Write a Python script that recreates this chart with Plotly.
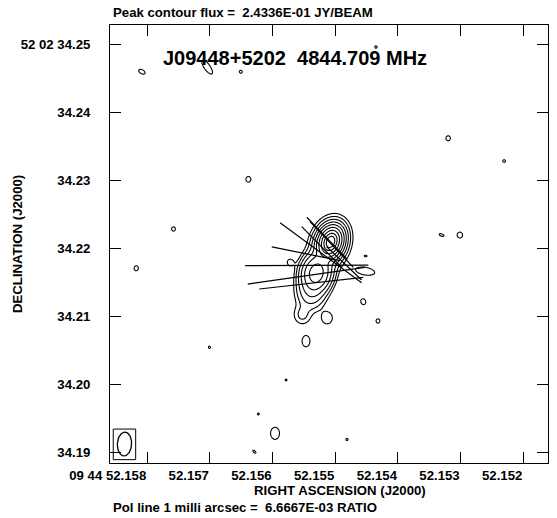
import numpy as np
import plotly.graph_objects as go

# ---- map geometry -------------------------------------------------------
RA0_S = 52.155          # reference RA seconds (09 44 52.155)
DEC0_AS = 34.22         # reference Dec arcsec (52 02 34.22)
DEC_DEG = 52 + 2 / 60 + DEC0_AS / 3600
COSD = np.cos(np.radians(DEC_DEG))

PEAK_FLUX = 0.24336                     # Jy/beam
CLEV_PCT = [0.2, 0.4, 0.8, 1.6, 3.2, 6.4, 12.8, 25.6, 51.2]   # % of peak
POL_RATIO_PER_MAS = 6.6667e-3           # fractional pol per mas of vector

# ---- source model: Gaussian components ---------------------------------
# east / north offsets (mas), peak (Jy/beam), FWHM major / minor (mas), PA (deg)
comp_east = [0.7, 0.7, 0.8, 2.8, 3.6, 4.9, 1.2, -4.4]
comp_north = [1.0, 1.0, 0.8, -3.6, -6.5, -9.8, -10.2, -3.3]
comp_peak = [0.150, 0.085, 0.008, 0.0220, 0.0030, 0.0011, 0.0009, 0.0009]
comp_maj = [1.4, 2.6, 4.4, 3.4, 3.5, 2.2, 1.8, 3.0]
comp_min = [0.95, 1.9, 3.2, 2.7, 2.9, 2.0, 1.6, 1.2]
comp_pa = [-20, -20, -18, -10, 0, 10, 0, 80]

# faint isolated patches (mJy/beam)
spot_east = [28.47, 18.87, 13.91, -5.99, 12.79, 23.82, 29.31, 18.53, -16.62,
             -24.85, -15.65, -18.34, 6.66, -4.47, -4.12, -6.28, 4.31, 7.25,
             11.32, 8.87, 11.91, -1.72]
spot_north = [26.03, 26.72, 26.03, 29.66, 10.21, 2.90, -2.88, -14.5, 16.24,
              12.90, 2.01, 2.01, -2.0, -1.07, -7.79, -10.63, -13.6, -19.31,
              -24.31, -27.15, -29.85, -28.04]
spot_peak_mjy = [0.68, 0.78, 0.58, 0.58, 0.68, 0.68, 0.68, 0.58, 0.68, 0.58,
                 0.68, 0.68, 0.68, 0.68, 0.68, 0.68, 0.78, 0.58, 0.58, 0.78,
                 0.68, 0.58]
spot_maj = [1.47, 3.0, 0.86, 0.7, 1.2, 0.9, 1.05, 0.7, 1.05, 0.8, 1.05, 1.26,
            1.26, 0.65, 1.26, 0.9, 2.0, 0.55, 0.55, 2.15, 0.84, 0.63]
spot_min = [0.84, 1.07, 0.86, 0.7, 1.05, 0.8, 0.9, 0.6, 0.95, 0.8, 0.5, 1.15,
            1.15, 0.35, 1.05, 0.8, 1.4, 0.55, 0.55, 1.6, 0.42, 0.63]
spot_pa = [60, 35, 0, 0, 0, 0, 0, 0, 0, 0, 70, 0, 0, 90, 20, 0, 0, 0, 0, 0,
           45, 0]

# ---- polarization vectors ------------------------------------------------
pol_east = [4.21, 4.26, 3.53, 4.33, 2.13, 1.22, 0.54, 2.00, -1.31]
pol_north = [-2.45, -3.97, -5.07, -0.74, -0.59, 1.53, 0.62, 0.25, -2.16]
pol_frac = [0.1209, 0.1161, 0.1027, 0.0683, 0.0993, 0.0573, 0.0617, 0.0559, 0.0473]
pol_evpa = [90.3, 98.1, 96.4, 78.5, 53.7, 44.0, 43.5, 44.5, 46.4]

# ---- restoring beam -----------------------------------------------------
BEAM_MAJ, BEAM_MIN, BEAM_PA = 3.5, 2.1, -3.0   # mas, mas, deg

# ---- axes -----------------------------------------------------------------
ra_ticks = [52.158, 52.157, 52.156, 52.155, 52.154, 52.153, 52.152]
ra_ticktext = ["09 44 52.158", "52.157", "52.156", "52.155", "52.154", "52.153", "52.152"]
dec_ticks = [34.25, 34.24, 34.23, 34.22, 34.21, 34.20, 34.19]
dec_ticktext = ["52 02 34.25", "34.24", "34.23", "34.22", "34.21", "34.20", "34.19"]
RA_RANGE = [52.158595, 52.151606]
DEC_RANGE = [34.188485, 34.252897]


def to_ra(e_mas):
    return RA0_S + np.asarray(e_mas) / 1000.0 / 15.0 / COSD


def to_dec(n_mas):
    return DEC0_AS + np.asarray(n_mas) / 1000.0


def gauss(E, N, e0, n0, amp, fmaj, fmin, pa):
    t = np.radians(pa)
    de, dn = E - e0, N - n0
    u = de * np.sin(t) + dn * np.cos(t)
    v = de * np.cos(t) - dn * np.sin(t)
    return amp * np.exp(-4 * np.log(2) * ((u / fmaj) ** 2 + (v / fmin) ** 2))


# image grid (mas offsets)
ge = np.arange(-31.8, 33.4, 0.1)
gn = np.arange(-31.8, 33.2, 0.1)
E, N = np.meshgrid(ge, gn)
img = np.zeros_like(E)
for i in range(len(comp_east)):
    img += gauss(E, N, comp_east[i], comp_north[i], comp_peak[i],
                 comp_maj[i], comp_min[i], comp_pa[i])
for i in range(len(spot_east)):
    img += gauss(E, N, spot_east[i], spot_north[i], spot_peak_mjy[i] / 1000.0,
                 spot_maj[i], spot_min[i], spot_pa[i])

base = PEAK_FLUX * CLEV_PCT[0] / 100.0
zlog = np.log2(np.maximum(img, base * 1e-3) / base).astype(np.float32)

fig = go.Figure()
fig.add_trace(go.Contour(
    x=to_ra(ge), y=to_dec(gn), z=zlog,
    contours=dict(start=0, end=np.log2(CLEV_PCT[-1] / CLEV_PCT[0]), size=1,
                  coloring="lines"),
    colorscale=[[0, "black"], [1, "black"]],
    line=dict(width=1.1), showscale=False, hoverinfo="skip",
))

# polarization sticks
px, py = [], []
for e0, n0, m, ang in zip(pol_east, pol_north, pol_frac, pol_evpa):
    half = 0.5 * m / POL_RATIO_PER_MAS
    t = np.radians(ang)
    de, dn = half * np.sin(t), half * np.cos(t)
    px += [to_ra(e0 - de), to_ra(e0 + de), None]
    py += [to_dec(n0 - dn), to_dec(n0 + dn), None]
fig.add_trace(go.Scatter(x=px, y=py, mode="lines",
                         line=dict(color="black", width=1.2),
                         hoverinfo="skip", showlegend=False))

# beam ellipse in lower-left box
left_e = (RA_RANGE[0] - RA0_S) * 15000.0 * COSD
bottom_n = (DEC_RANGE[0] - DEC0_AS) * 1000.0
bc_e, bc_n = left_e - 2.13, bottom_n + 2.79
th = np.linspace(0, 2 * np.pi, 90)
tp = np.radians(BEAM_PA)
a, b = BEAM_MAJ / 2, BEAM_MIN / 2
ue, un = b * np.cos(th), a * np.sin(th)
be = bc_e + ue * np.cos(tp) + un * np.sin(tp)
bn = bc_n - ue * np.sin(tp) + un * np.cos(tp)
fig.add_trace(go.Scatter(x=to_ra(be), y=to_dec(bn), mode="lines",
                         line=dict(color="black", width=1.3),
                         hoverinfo="skip", showlegend=False))
fig.add_shape(type="rect", xref="x", yref="y",
              x0=float(to_ra(bc_e + 1.65)), x1=float(to_ra(bc_e - 1.65)),
              y0=float(to_dec(bc_n - 2.3)), y1=float(to_dec(bc_n + 2.2)),
              line=dict(color="black", width=1))

FONT = "Liberation Sans, Arial, sans-serif"
axis_common = dict(showgrid=False, zeroline=False, showline=True, linecolor="black",
                   linewidth=1, mirror="ticks", ticks="inside", ticklen=11,
                   tickwidth=1, tickcolor="black", tickangle=0,
                   tickfont=dict(family=FONT, size=13.2, color="black", weight="bold"))
fig.update_xaxes(range=RA_RANGE, tickvals=ra_ticks, ticktext=ra_ticktext,
                 ticklabelposition="outside left", **axis_common)
fig.update_yaxes(range=DEC_RANGE, tickvals=dec_ticks, ticktext=dec_ticktext,
                 ticklabelstandoff=16, **axis_common)


def label(text, x, y, size=13.2, xanchor="left", angle=0):
    fig.add_annotation(text=text, x=x, y=y, xref="paper", yref="paper",
                       xanchor=xanchor, yanchor="middle", showarrow=False,
                       textangle=angle,
                       font=dict(family=FONT, size=size, color="black", weight="bold"))


label("Peak contour flux =\u00a0 2.4336E-01 JY/BEAM", 0.0023, 1.0274)
label("J09448+5202\u00a0 4844.709 MHz", 0.4224, 0.9247, size=20, xanchor="center")
label("RIGHT ASCENSION (J2000)", 0.524, -0.0635, xanchor="center")
label("Pol line 1 milli arcsec =\u00a0 6.6667E-03 RATIO", 0.0023, -0.1016)
label("DECLINATION (J2000)", -0.2123, 0.5, xanchor="center", angle=-90)

fig.update_layout(width=557, height=518, margin=dict(l=110, r=9, t=25, b=55),
                  paper_bgcolor="white", plot_bgcolor="white", showlegend=False)
fig.write_html("out.html")
